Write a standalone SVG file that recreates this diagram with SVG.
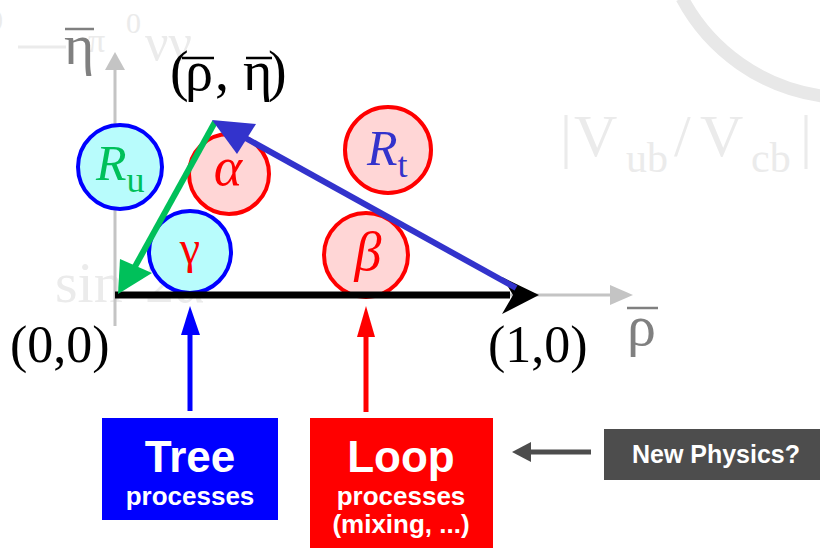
<svg xmlns="http://www.w3.org/2000/svg" width="820" height="549" viewBox="0 0 820 549">
<style>
.faint{fill:#ebebeb;font-family:"Liberation Serif",serif}
.serif{font-family:"Liberation Serif",serif}
.axlab{fill:#808080;font-family:"Liberation Serif",serif}
.circB{fill:#b8fcfc;stroke:#0000ff;stroke-width:4}
.circR{fill:#ffd6d6;stroke:#ff0000;stroke-width:4}
.box{font-family:"Liberation Sans",Arial,sans-serif;font-weight:bold;fill:#ffffff;text-anchor:middle}
</style>
<rect width="820" height="549" fill="#ffffff"/>
<!-- faint background -->
<g id="background">
<path d="M 682 -2 A 188 188 0 0 0 822 96" fill="none" stroke="#e8e8e8" stroke-width="13"/>
<text class="faint" x="-12" y="30" font-size="30">0</text>
<line x1="18" y1="47" x2="66" y2="47" stroke="#ebebeb" stroke-width="3"/>
<text class="faint" x="88" y="52" font-size="34">π</text>
<text class="faint" x="126" y="33" font-size="30">0</text>
<text class="faint" x="145" y="60" font-size="52">νν</text>
<text class="faint" y="156" font-size="60"><tspan x="560">|</tspan><tspan x="574">V</tspan><tspan x="626" y="172" font-size="42">ub</tspan><tspan x="674" y="156">/</tspan><tspan x="700">V</tspan><tspan x="751" y="172" font-size="42">cb</tspan><tspan x="800" y="156">|</tspan></text>
<text class="faint" y="302" font-size="58"><tspan x="55">sin</tspan><tspan x="145">2α</tspan></text>
</g>
<!-- axes -->
<g id="axes">
<line x1="115" y1="326" x2="115" y2="68" stroke="#c4c4c4" stroke-width="3"/>
<polygon points="115,52 105,70 125,70" fill="#c4c4c4"/>
<line x1="115" y1="295" x2="614" y2="295" stroke="#c4c4c4" stroke-width="3"/>
<polygon points="633,295 610,285 610,305" fill="#c4c4c4"/>
<line x1="65" y1="29" x2="94" y2="29" stroke="#808080" stroke-width="2.5"/>
<text class="axlab" x="64" y="64" font-size="58">η</text>
<line x1="627" y1="308" x2="658" y2="308" stroke="#808080" stroke-width="2.5"/>
<text class="axlab" x="627" y="345" font-size="58">ρ</text>
</g>
<!-- nodes -->
<g id="node-Ru">
<circle class="circB" cx="120" cy="167" r="42"/>
<text class="serif" x="96" y="180" font-size="50" font-style="italic" fill="#00c05a">R<tspan font-style="normal" font-size="36" dy="12">u</tspan></text>
</g>
<g id="node-alpha">
<circle class="circR" cx="229" cy="174" r="40"/>
<text class="serif" x="228" y="185" font-size="54" font-style="italic" fill="#ff0000" text-anchor="middle">α</text>
</g>
<g id="node-gamma">
<circle class="circB" cx="190" cy="252" r="41"/>
<text class="serif" x="190" y="263" font-size="46" fill="#ff0000" text-anchor="middle">γ</text>
</g>
<g id="node-Rt">
<circle class="circR" cx="388" cy="150" r="43"/>
<text class="serif" x="367" y="165" font-size="50" font-style="italic" fill="#3333cc">R<tspan font-style="normal" font-size="36" dy="12">t</tspan></text>
</g>
<g id="node-beta">
<circle class="circR" cx="366" cy="255" r="42"/>
<text class="serif" x="368" y="270" font-size="54" font-style="italic" fill="#ff0000" text-anchor="middle">β</text>
</g>
<!-- connectors -->
<g id="connectors">
<line x1="115" y1="295" x2="510" y2="295" stroke="#000000" stroke-width="7"/>
<polygon points="539,295 502,277 513,295 502,314" fill="#000000"/>
<line x1="215" y1="122" x2="132" y2="272" stroke="#00c05a" stroke-width="6"/>
<polygon points="118,294 120,259 152,273" fill="#00c05a"/>
<line x1="516" y1="288" x2="240" y2="135" stroke="#3333cc" stroke-width="6"/>
<polygon points="212,120 256,124 237,154" fill="#3333cc"/>
<line x1="190" y1="411" x2="190" y2="330" stroke="#0000ff" stroke-width="5"/>
<polygon points="190,306 181,335 200,335" fill="#0000ff"/>
<line x1="366" y1="412" x2="366" y2="332" stroke="#ff0000" stroke-width="5"/>
<polygon points="366,306 357,337 375,337" fill="#ff0000"/>
<line x1="591" y1="452" x2="525" y2="452" stroke="#4d4d4d" stroke-width="5"/>
<polygon points="512,452 531,442 531,462" fill="#4d4d4d"/>
</g>
<!-- coordinate labels -->
<g id="label-rhoeta">
<text class="serif" y="90" font-size="56" fill="#000000"><tspan x="170">(</tspan><tspan x="185">ρ</tspan><tspan x="215">,</tspan><tspan x="243">η</tspan><tspan x="268">)</tspan></text>
<line x1="182" y1="58" x2="214" y2="58" stroke="#000000" stroke-width="2.5"/>
<line x1="246" y1="58" x2="272" y2="58" stroke="#000000" stroke-width="2.5"/>
</g>
<g id="label-00">
<text class="serif" x="10" y="362" font-size="52" fill="#000000">(0,0)</text>
</g>
<g id="label-10">
<text class="serif" x="488" y="362" font-size="52" fill="#000000">(1,0)</text>
</g>
<!-- boxes -->
<g id="node-tree">
<rect x="102" y="418" width="176" height="102" fill="#0000ff"/>
<text class="box" x="190" y="472" font-size="44">Tree</text>
<text class="box" x="190" y="505" font-size="26">processes</text>
</g>
<g id="node-loop">
<rect x="310" y="418" width="183" height="130" fill="#ff0000"/>
<text class="box" x="401" y="472" font-size="44">Loop</text>
<text class="box" x="401" y="505" font-size="26">processes</text>
<text class="box" x="401" y="533" font-size="26">(mixing, ...)</text>
</g>
<g id="node-newphysics">
<rect x="604" y="429" width="216" height="51" fill="#4d4d4d"/>
<text class="box" x="716" y="463" font-size="25">New Physics?</text>
</g>
</svg>
